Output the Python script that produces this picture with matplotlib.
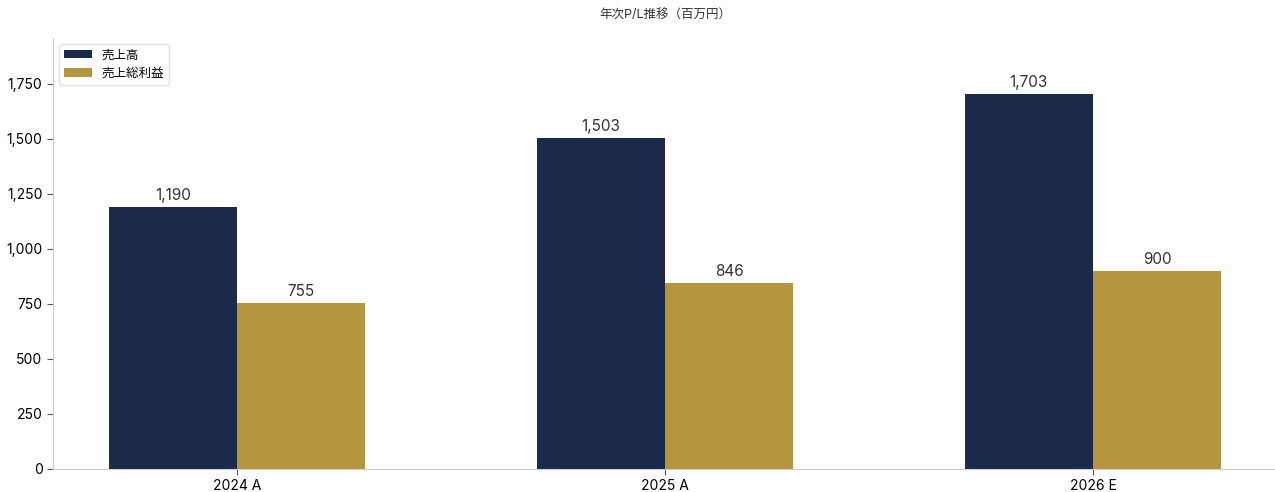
import numpy as np
import matplotlib
matplotlib.use("Agg")
import matplotlib.pyplot as plt

plt.rcParams['font.family'] = ['Inter', 'Noto Sans CJK JP', 'DejaVu Sans']

categories = ["2024 A", "2025 A", "2026 E"]
sales = [1190, 1503, 1703]
gross_profit = [755, 846, 900]
series_names = ["売上高", "売上総利益"]
title = "年次P/L推移（百万円）"

navy = "#1B2A4A"
gold = "#B5963F"
grid_gray = "#CCCCCC"

fig = plt.figure(figsize=(12.75, 4.92), dpi=100)
ax = fig.add_axes([53 / 1275, 23 / 492, 1224 / 1275, 431 / 492])

x = np.arange(len(categories))
w = 0.3
b1 = ax.bar(x - w / 2, sales, w, color=navy, label=series_names[0])
b2 = ax.bar(x + w / 2, gross_profit, w, color=gold, label=series_names[1])

for bars in (b1, b2):
    for r in bars:
        ax.annotate(f"{r.get_height():,.0f}", (r.get_x() + r.get_width() / 2, r.get_height()),
                    xytext=(0, 3), textcoords="offset points", ha="center", va="bottom",
                    fontsize=11, color="#333333")

ax.set_xticks(x)
ax.set_xticklabels(categories, fontsize=10)
ax.set_xlim(-0.43, 2.43)
ax.set_ylim(0, max(sales) * 1.15)
ax.set_yticks(np.arange(0, 1751, 250))
ax.yaxis.set_major_formatter(matplotlib.ticker.FuncFormatter(lambda v, p: f"{v:,.0f}"))
ax.tick_params(axis="y", labelsize=10)

for s in ("top", "right"):
    ax.spines[s].set_visible(False)
for s in ("left", "bottom"):
    ax.spines[s].set_color(grid_gray)
ax.tick_params(color="#555555", length=4)

ax.legend(loc="upper left", fontsize=9, frameon=True, edgecolor="#DDDDDD", handlelength=2.2)
ax.set_title(title, fontsize=9, color="#333333", pad=14)

fig.savefig("out.png", dpi=100)
